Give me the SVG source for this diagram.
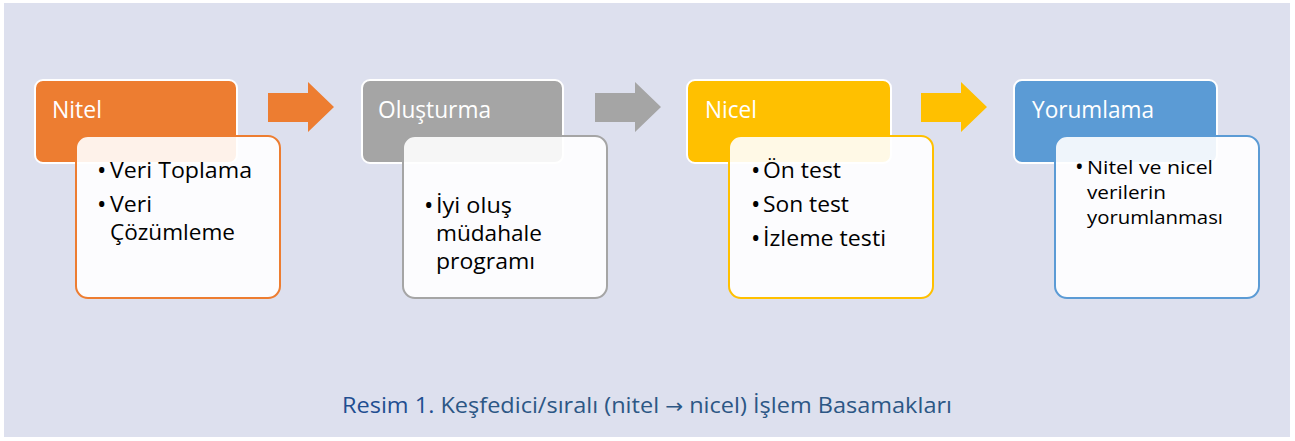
<svg xmlns="http://www.w3.org/2000/svg" width="1295" height="441" viewBox="0 0 1295 441">
  <style>
    .hdr { stroke: #ffffff; stroke-width: 2; }
    .det { fill: #ffffff; fill-opacity: 0.9; stroke-width: 2; }
    .ht { font-family: "Open Sans", "Liberation Sans", sans-serif; font-size: 23px; fill: #ffffff; }
    .bt { font-family: "Open Sans", "Liberation Sans", sans-serif; font-size: 21px; fill: #000000; }
    .st { font-family: "Open Sans", "Liberation Sans", sans-serif; font-size: 19px; fill: #000000; }
    .bl { font-size: 25px; }
    .bls { font-size: 23px; }
    .cap { font-family: "Open Sans", "Liberation Sans", sans-serif; font-size: 22px; }
  </style>
  <rect x="0" y="0" width="1295" height="441" fill="#ffffff"/>
  <rect x="4" y="3" width="1286" height="434" fill="#dde0ee"/>

  <g id="connectors">
    <polygon points="268,93 308,93 308,82 334,107 308,132 308,122 268,122" fill="#ed7d31"/>
    <polygon points="595,93 635,93 635,82 661,107 635,132 635,122 595,122" fill="#a5a5a5"/>
    <polygon points="921,93 961,93 961,82 987,107 961,132 961,122 921,122" fill="#ffc000"/>
  </g>

  <g id="node-nitel">
    <rect class="hdr" x="35" y="80" width="202" height="83" rx="8" fill="#ed7d31"/>
    <text class="ht" x="52" y="118" textLength="50" lengthAdjust="spacingAndGlyphs">Nitel</text>
    <rect class="det" x="76" y="136" width="204" height="162" rx="12" stroke="#ed7d31"/>
    <text class="bt" x="97" y="178"><tspan class="bl" dy="1">•</tspan><tspan x="110" dy="-1" textLength="142" lengthAdjust="spacingAndGlyphs">Veri Toplama</tspan></text>
    <text class="bt" x="97" y="212"><tspan class="bl" dy="1">•</tspan><tspan x="110" dy="-1" textLength="42" lengthAdjust="spacingAndGlyphs">Veri</tspan></text>
    <text class="bt" x="110" y="240" textLength="125" lengthAdjust="spacingAndGlyphs">Çözümleme</text>
  </g>

  <g id="node-olusturma">
    <rect class="hdr" x="362" y="80" width="201" height="83" rx="8" fill="#a5a5a5"/>
    <text class="ht" x="378" y="118" textLength="113" lengthAdjust="spacingAndGlyphs">Oluşturma</text>
    <rect class="det" x="403" y="136" width="204" height="162" rx="12" stroke="#a5a5a5"/>
    <text class="bt" x="424" y="213"><tspan class="bl" dy="1">•</tspan><tspan x="436" dy="-1" textLength="76" lengthAdjust="spacingAndGlyphs">İyi oluş</tspan></text>
    <text class="bt" x="436" y="241" textLength="106" lengthAdjust="spacingAndGlyphs">müdahale</text>
    <text class="bt" x="436" y="269" textLength="99" lengthAdjust="spacingAndGlyphs">programı</text>
  </g>

  <g id="node-nicel">
    <rect class="hdr" x="687" y="80" width="204" height="83" rx="8" fill="#ffc000"/>
    <text class="ht" x="705" y="118" textLength="52" lengthAdjust="spacingAndGlyphs">Nicel</text>
    <rect class="det" x="729" y="136" width="204" height="162" rx="12" stroke="#ffc000"/>
    <text class="bt" x="751" y="178"><tspan class="bl" dy="1">•</tspan><tspan x="763" dy="-1" textLength="78" lengthAdjust="spacingAndGlyphs">Ön test</tspan></text>
    <text class="bt" x="751" y="212"><tspan class="bl" dy="1">•</tspan><tspan x="763" dy="-1" textLength="86" lengthAdjust="spacingAndGlyphs">Son test</tspan></text>
    <text class="bt" x="751" y="246"><tspan class="bl" dy="1">•</tspan><tspan x="763" dy="-1" textLength="123" lengthAdjust="spacingAndGlyphs">İzleme testi</tspan></text>
  </g>

  <g id="node-yorumlama">
    <rect class="hdr" x="1014" y="80" width="203" height="83" rx="8" fill="#5b9bd5"/>
    <text class="ht" x="1032" y="118" textLength="122" lengthAdjust="spacingAndGlyphs">Yorumlama</text>
    <rect class="det" x="1055" y="136" width="204" height="162" rx="12" stroke="#5b9bd5"/>
    <text class="st" x="1075" y="174"><tspan class="bls" dy="1">•</tspan><tspan x="1087" dy="-1" textLength="126" lengthAdjust="spacingAndGlyphs">Nitel ve nicel</tspan></text>
    <text class="st" x="1087" y="199" textLength="79" lengthAdjust="spacingAndGlyphs">verilerin</text>
    <text class="st" x="1087" y="224" textLength="136" lengthAdjust="spacingAndGlyphs">yorumlanması</text>
  </g>

  <text class="cap" x="342" y="413" textLength="610" lengthAdjust="spacingAndGlyphs"><tspan fill="#1f4e91">Resim 1.</tspan><tspan fill="#2c5785"> Keşfedici/sıralı (nitel </tspan><tspan fill="#2c5785" font-family="DejaVu Sans, sans-serif" font-size="20px">→</tspan><tspan fill="#2c5785"> nicel) İşlem Basamakları</tspan></text>
</svg>
